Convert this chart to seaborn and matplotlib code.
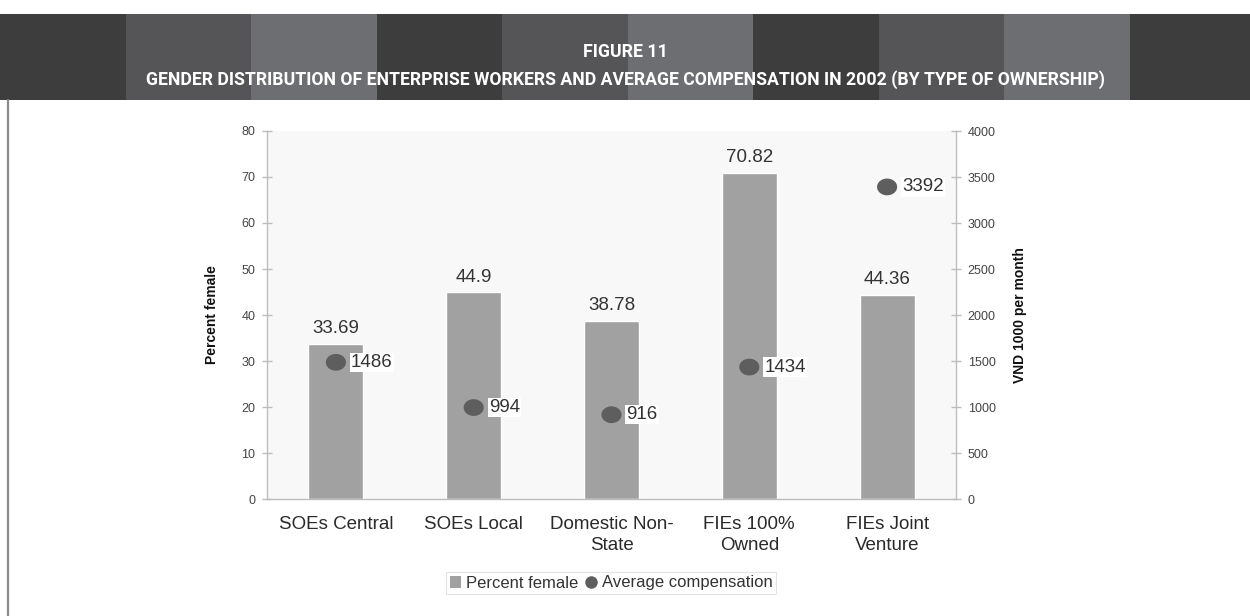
import numpy as np
import pandas as pd
import matplotlib
matplotlib.use("Agg")
import matplotlib.pyplot as plt
import seaborn as sns
from matplotlib.path import Path
from matplotlib.patches import Rectangle, Patch
from matplotlib.lines import Line2D

# ---- data ----
categories = ["SOEs Central", "SOEs Local", "Domestic Non-\nState", "FIEs 100%\nOwned", "FIEs Joint\nVenture"]
percent_female = [33.69, 44.9, 38.78, 70.82, 44.36]
avg_compensation = [1486, 994, 916, 1434, 3392]
left_ticks = [0, 10, 20, 30, 40, 50, 60, 70, 80]
right_ticks = [0, 500, 1000, 1500, 2000, 2500, 3000, 3500, 4000]
title_lines = ["FIGURE 11",
               "GENDER DISTRIBUTION OF ENTERPRISE WORKERS AND AVERAGE COMPENSATION IN 2002 (BY TYPE OF OWNERSHIP)"]
series_names = ["Percent female", "Average compensation"]

df = pd.DataFrame({"category": categories, "percent": percent_female, "comp": avg_compensation})

sns.set_theme(style="white")
plt.rcParams["font.family"] = ["Liberation Sans", "DejaVu Sans"]

W, H = 1250, 616
fig = plt.figure(figsize=(W / 100, H / 100), dpi=100)
fig.patch.set_facecolor("white")

# striped header band
stripe_cols = ["#3d3d3d", "#555557", "#6d6e71"]
n_stripes = 10
sw = 125.5 / W
for i in range(n_stripes):
    fig.patches.append(Rectangle((i * sw, 1 - 100 / H), sw + 0.001, 86 / H,
                                 transform=fig.transFigure, facecolor=stripe_cols[i % 3],
                                 edgecolor="none", zorder=0))
fig.text(0.5, 1 - 52 / H, title_lines[0], color="white", ha="center", va="center",
         fontsize=12.8, fontweight="bold", family=["Roboto", "DejaVu Sans"])
fig.text(0.5, 1 - 80 / H, title_lines[1], color="white", ha="center", va="center",
         fontsize=12.7, fontweight="bold", family=["Roboto", "DejaVu Sans"])
# thin frame line on the left below the header
fig.add_artist(Line2D([8 / W, 8 / W], [0, 1 - 100 / H], transform=fig.transFigure,
                      color="#8a8a8a", lw=1.6))

# ---- main axes ----
ax = fig.add_axes([267 / W, 117 / H, 689 / W, 368 / H])
ax.set_facecolor("#f8f8f8")
sns.barplot(data=df, x="category", y="percent", color="#a1a1a1", saturation=1,
            width=0.4, ax=ax, zorder=2)
ax.set_xlim(-0.5, len(categories) - 0.5)
ax.set_ylim(left_ticks[0], left_ticks[-1])
ax.set_yticks(left_ticks)
ax.bar_label(ax.containers[0], labels=[f"{v:g}" for v in percent_female], padding=5,
             fontsize=13.5, color="#333333")

ax2 = ax.twinx()
ell = np.linspace(0, 2 * np.pi, 60)
ellipse = Path(np.column_stack([1.2 * np.cos(ell), np.sin(ell)]), closed=True)
sns.scatterplot(data=df, x="category", y="comp", ax=ax2, marker=ellipse, s=210,
                color="#5e5e5e", edgecolor="none", zorder=3, legend=False)
ax2.set_ylim(right_ticks[0], right_ticks[-1])
ax2.set_yticks(right_ticks)
for i, v in enumerate(avg_compensation):
    ax2.annotate(f"{v}", (i, v), xytext=(15, 0), textcoords="offset pixels",
                 ha="left", va="center", fontsize=13.5, color="#333333",
                 bbox=dict(facecolor="white", edgecolor="none", pad=0.8))

# axes styling
spine_col = "#bdbdbd"
for a in (ax, ax2):
    for s in a.spines.values():
        s.set_visible(False)
ax.spines["left"].set_visible(True)
ax.spines["bottom"].set_visible(True)
ax2.spines["right"].set_visible(True)
for s in (ax.spines["left"], ax.spines["bottom"], ax2.spines["right"]):
    s.set_color(spine_col)
    s.set_linewidth(1)

ax.set_xticks(range(len(categories)))
ax.set_xticklabels(categories, fontsize=13.5, color="#2a2a2a", linespacing=1.3)
ax.tick_params(axis="x", length=0, pad=12)
ax.set_xticks(np.arange(0.5, len(categories) - 0.5, 1), minor=True)
ax.tick_params(axis="x", which="minor", direction="inout", length=8, color=spine_col, width=1)
ax.tick_params(axis="y", direction="inout", length=7, color=spine_col, width=1,
               labelsize=9, labelcolor="#444444", pad=5, left=True)
ax2.tick_params(axis="y", direction="inout", length=7, color=spine_col, width=1,
                labelsize=9, labelcolor="#444444", pad=5, right=True)

ax.set_xlabel("")
ax.set_ylabel("Percent female", fontsize=10, fontweight="bold", color="#111111")
ax.yaxis.set_label_coords(-0.07, 0.5)
ax2.set_ylabel("VND 1000 per month", fontsize=10, fontweight="bold", color="#111111",
               rotation=90)
ax2.yaxis.set_label_coords(1.083, 0.5)

# legend
handles = [Patch(facecolor="#a1a1a1", edgecolor="none"),
           Line2D([], [], marker="o", linestyle="none", markersize=9,
                  markerfacecolor="#5e5e5e", markeredgecolor="none")]
leg = fig.legend(handles, series_names, loc="center", bbox_to_anchor=(611 / W, 1 - 583 / H),
                 ncol=2, frameon=True, fontsize=12, handlelength=0.7, handleheight=0.7,
                 handletextpad=0.3, columnspacing=0.4, borderpad=0.2, fancybox=False)
leg.get_frame().set_edgecolor("#dddddd")
leg.get_frame().set_linewidth(0.8)
for t in leg.get_texts():
    t.set_color("#333333")

fig.savefig("out.png", dpi=100)
